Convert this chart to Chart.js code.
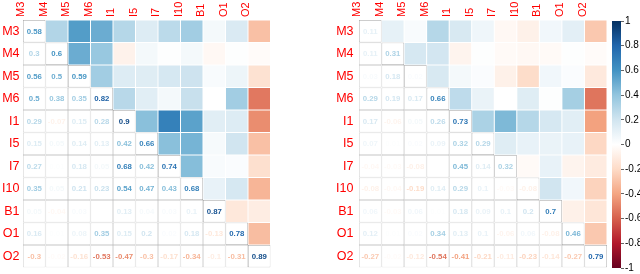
<!DOCTYPE html>
<html>
<head>
<meta charset="utf-8">
<script src="https://cdn.jsdelivr.net/npm/chart.js@4/dist/chart.umd.min.js"></script>
<style>
  body { margin: 0; background: #fff; }
  #wrap { position: relative; width: 640px; height: 274px; overflow: hidden; }
  canvas { position: absolute; top: 0; }
</style>
</head>
<body>
<div id="wrap">
  <canvas id="left" width="280" height="274" style="left:0"></canvas>
  <canvas id="right" width="275" height="274" style="left:336px"></canvas>
  <canvas id="bar" width="40" height="274" style="left:600px"></canvas>
</div>
<script>
// variables (same order for rows and columns)
const vars = ['M3', 'M4', 'M5', 'M6', 'I1', 'I5', 'I7', 'I10', 'B1', 'O1', 'O2'];

// lower triangle, row by row (diagonal last in each row)
const leftRows = [
  [0.58],
  [0.3, 0.6],
  [0.56, 0.5, 0.59],
  [0.5, 0.38, 0.35, 0.82],
  [0.29, -0.07, 0.15, 0.28, 0.9],
  [0.15, 0.05, 0.14, 0.13, 0.42, 0.66],
  [0.27, 0.01, 0.18, 0.05, 0.68, 0.42, 0.74],
  [0.35, 0.05, 0.21, 0.23, 0.54, 0.47, 0.43, 0.68],
  [0.05, -0.04, 0.03, 0, 0.13, 0.04, 0.03, 0.1, 0.87],
  [0.16, 0.01, 0.08, 0.35, 0.15, 0.2, 0.02, 0.18, -0.13, 0.78],
  [-0.3, -0.02, -0.16, -0.53, -0.47, -0.3, -0.17, -0.34, -0.1, -0.31, 0.89]
];

const rightRows = [
  [0.11],
  [0.11, 0.31],
  [0.03, 0.18, 0.02],
  [0.29, 0.19, 0.17, 0.66],
  [0.17, -0.06, 0.05, 0.26, 0.73],
  [0.07, 0.01, 0.02, 0.09, 0.32, 0.29],
  [-0.04, -0.03, -0.08, 0, 0.45, 0.14, 0.32],
  [-0.08, -0.04, -0.19, 0.14, 0.29, 0.1, -0.03, -0.08],
  [0.06, -0.03, 0.06, 0.01, 0.18, 0.09, 0.1, 0.2, 0.7],
  [0.12, 0.01, 0.02, 0.34, 0.13, 0.1, -0.06, 0.06, -0.08, 0.46],
  [-0.27, -0.02, -0.12, -0.54, -0.41, -0.21, -0.11, -0.23, -0.14, -0.27, 0.79]
];

// colour bar ticks
const barTicks = [1, 0.8, 0.6, 0.4, 0.2, 0, -0.2, -0.4, -0.6, -0.8, -1];

// RdBu palette, from -1 to 1
const palette = ['#67001F', '#B2182B', '#D6604D', '#F4A582', '#FDDBC7', '#FFFFFF',
                 '#D1E5F0', '#92C5DE', '#4393C3', '#2166AC', '#053061'];

const FONT = '"Liberation Sans", Arial, sans-serif';
Chart.defaults.font.family = FONT;

function hexToRgb(h) {
  return [parseInt(h.slice(1, 3), 16), parseInt(h.slice(3, 5), 16), parseInt(h.slice(5, 7), 16)];
}

function colorOf(v) {
  let t = (v + 1) / 2 * (palette.length - 1);
  t = Math.min(Math.max(t, 0), palette.length - 1);
  const i = Math.min(Math.floor(t), palette.length - 2);
  const f = t - i;
  const a = hexToRgb(palette[i]), b = hexToRgb(palette[i + 1]);
  const c = a.map((x, k) => Math.round(x + (b[k] - x) * f));
  return 'rgb(' + c.join(',') + ')';
}

// value of cell (row r, col c) from the lower triangle
function cellValue(rows, r, c) {
  return c <= r ? rows[r][c] : rows[c][r];
}

function numberPlugin(rows) {
  return {
    id: 'numbers',
    afterDatasetsDraw(chart) {
      const ctx = chart.ctx;
      ctx.save();
      ctx.font = 'bold 7.8px ' + FONT;
      ctx.textAlign = 'center';
      ctx.textBaseline = 'middle';
      rows.forEach((row, r) => {
        const meta = chart.getDatasetMeta(r);
        row.forEach((v, c) => {
          const p = meta.data[c].getCenterPoint();
          ctx.fillStyle = colorOf(v);
          ctx.fillText(String(v), p.x, p.y + 0.5);
        });
      });
      ctx.restore();
    }
  };
}

function makePanel(id, rows, pad, labelPad) {
  const datasets = vars.map((_, r) => ({
    data: vars.map(() => [r - 0.5, r + 0.5]),
    backgroundColor: vars.map((_, c) => c > r ? colorOf(cellValue(rows, r, c)) : '#ffffff'),
    borderColor: vars.map((_, c) => c > r ? '#ffffff' : (c === r ? '#a8a8a8' : '#cdcdcd')),
    borderWidth: vars.map((_, c) => c > r ? 0.5 : 0.7),
    borderSkipped: false,
    inflateAmount: 0,
    grouped: false,
    barPercentage: 1,
    categoryPercentage: 1
  }));

  new Chart(document.getElementById(id), {
    type: 'bar',
    data: { labels: vars, datasets: datasets },
    options: {
      responsive: false,
      animation: false,
      devicePixelRatio: 1,
      layout: { padding: pad },
      plugins: { legend: { display: false }, tooltip: { enabled: false } },
      scales: {
        x: {
          type: 'category',
          position: 'top',
          offset: true,
          grid: { display: false, drawTicks: false },
          border: { display: false },
          ticks: { color: '#ff0000', font: { size: 11 }, minRotation: 90, maxRotation: 90, padding: 3, autoSkip: false },
          afterFit(s) { s.height = 20; s.paddingLeft = 0; s.paddingRight = 0; }
        },
        y: {
          type: 'linear',
          min: -0.5,
          max: vars.length - 0.5,
          reverse: true,
          grid: { display: false, drawTicks: false },
          border: { display: false },
          afterBuildTicks(s) { s.ticks = vars.map((_, i) => ({ value: i })); },
          ticks: { color: '#ff0000', font: { size: 12.5 }, padding: labelPad, autoSkip: false,
                   callback: (v) => vars[v] },
          afterFit(s) { s.width = 23; s.paddingTop = 0; s.paddingBottom = 0; }
        }
      }
    },
    plugins: [numberPlugin(rows)]
  });
}

makePanel('left', leftRows, { left: 0, top: 0, right: 9.5, bottom: 6.5 }, 3.5);
makePanel('right', rightRows, { left: 0, top: 0, right: 4, bottom: 6.5 }, 5.5);

// colour bar
new Chart(document.getElementById('bar'), {
  type: 'bar',
  data: {
    labels: [''],
    datasets: [{
      data: [[-1, 1]],
      borderSkipped: false,
      inflateAmount: 0,
      barPercentage: 1,
      categoryPercentage: 1,
      backgroundColor(ctx) {
        const area = ctx.chart.chartArea;
        if (!area || !isFinite(area.top) || !isFinite(area.bottom)) return palette[5];
        const g = ctx.chart.ctx.createLinearGradient(0, area.bottom, 0, area.top);
        palette.forEach((c, i) => g.addColorStop(i / (palette.length - 1), c));
        return g;
      }
    }]
  },
  options: {
    responsive: false,
    animation: false,
    devicePixelRatio: 1,
    layout: { padding: { left: 12, top: 21, right: 0, bottom: 6 } },
    plugins: { legend: { display: false }, tooltip: { enabled: false } },
    scales: {
      x: { display: false },
      y: {
        position: 'right',
        min: -1,
        max: 1,
        grid: { display: true, drawOnChartArea: false, drawTicks: true, tickLength: 3, color: '#666' },
        border: { display: false },
        afterBuildTicks(s) { s.ticks = barTicks.map(v => ({ value: v })); },
        ticks: { color: '#000', font: { size: 10 }, padding: 1, autoSkip: false,
                 callback: (v) => String(v) },
        afterFit(s) { s.width = 19; s.paddingTop = 0; s.paddingBottom = 0; }
      }
    }
  }
});
</script>
</body>
</html>
